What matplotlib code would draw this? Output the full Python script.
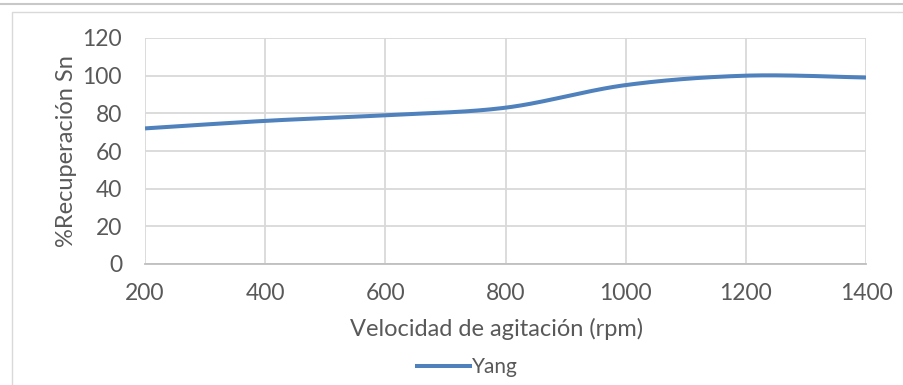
import numpy as np
import matplotlib
matplotlib.use("Agg")
import matplotlib.pyplot as plt
from matplotlib.lines import Line2D
from matplotlib.patches import Rectangle

speed = [200, 400, 600, 800, 1000, 1200, 1400]
recovery = [72, 76, 79, 83, 95, 100, 99]
series_name = "Yang"
x_ticks = [200, 400, 600, 800, 1000, 1200, 1400]
y_ticks = [0, 20, 40, 60, 80, 100, 120]

plt.rcParams['font.family'] = ['Lato', 'DejaVu Sans']

def excel_smooth(xs, ys, n=40):
    xs = np.asarray(xs, float); ys = np.asarray(ys, float)
    px, py = [], []
    m = len(xs)
    for i in range(m - 1):
        x0, y0 = (xs[i-1], ys[i-1]) if i > 0 else (xs[i], ys[i])
        x1, y1 = xs[i], ys[i]
        x2, y2 = xs[i+1], ys[i+1]
        x3, y3 = (xs[i+2], ys[i+2]) if i + 2 < m else (xs[i+1], ys[i+1])
        c1x = x1 + (x2 - x0) / 6; c1y = y1 + (y2 - y0) / 6
        c2x = x2 - (x3 - x1) / 6; c2y = y2 - (y3 - y1) / 6
        t = np.linspace(0, 1, n)
        bx = (1-t)**3*x1 + 3*(1-t)**2*t*c1x + 3*(1-t)*t**2*c2x + t**3*x2
        by = (1-t)**3*y1 + 3*(1-t)**2*t*c1y + 3*(1-t)*t**2*c2y + t**3*y2
        px.extend(bx); py.extend(by)
    return np.array(px), np.array(py)

W, H = 904, 385
fig = plt.figure(figsize=(W/100, H/100), dpi=100)
ax = fig.add_axes([145/W, 1-264/H, (866-145)/W, 226/H])

sx, sy = excel_smooth(speed, recovery)
ax.plot(sx, sy, color='#4f81bd', lw=2.9, solid_capstyle='butt', zorder=3)

ax.set_xlim(x_ticks[0], x_ticks[-1])
ax.set_ylim(y_ticks[0], y_ticks[-1])
ax.set_xticks(x_ticks)
ax.set_yticks(y_ticks)
ax.grid(True, color='#d9d9d9', lw=1.3)
ax.set_axisbelow(True)
for s in ['top', 'right', 'left']:
    ax.spines[s].set_visible(False)
ax.spines['bottom'].set_color('#bfbfbf')
ax.spines['bottom'].set_linewidth(1.3)
ax.tick_params(length=0, colors='#595959', labelsize=16.5, pad=14)
ax.tick_params(axis='y', pad=16.5)
ax.set_xlabel('Velocidad de agitación (rpm)', fontsize=17, color='#595959', labelpad=8)
ax.xaxis.set_label_coords(0.487, -0.24)
ax.set_ylabel('%Recuperación Sn', fontsize=17, color='#595959', labelpad=4)

# legend
fig.add_artist(Line2D([417/W, 470/W], [1-366/H, 1-366/H], color='#4f81bd', lw=2.9))
fig.text(472/W, 1-367/H, series_name, fontsize=15, color='#595959', va='center', ha='left')

# frame lines
fig.add_artist(Line2D([0, 1], [1-4/H, 1-4/H], color='#c8c8c8', lw=1.5))
fig.add_artist(Rectangle((12/W, -0.1), 1.2, 1-12/H+0.1, transform=fig.transFigure,
                         fill=False, edgecolor='#d9d9d9', lw=1))

fig.savefig('out.png', dpi=100)
